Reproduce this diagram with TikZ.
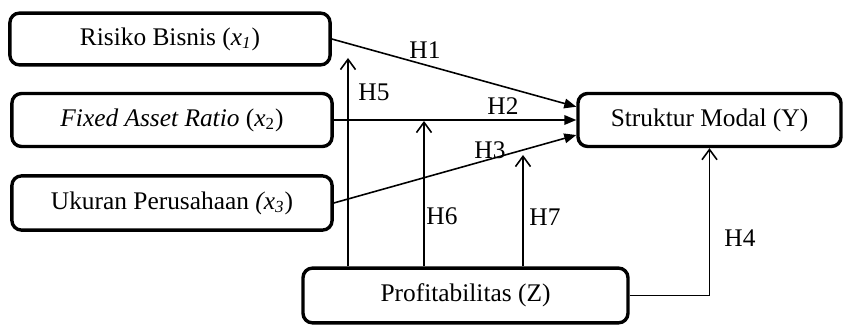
\documentclass[tikz,border=0pt]{standalone}
\usepackage{fontspec}
\setmainfont{Liberation Serif}
\usetikzlibrary{arrows.meta,positioning,calc}
\definecolor{ink}{RGB}{0,0,0}
\tikzset{
  varbox/.style={draw=ink,line width=1.6pt,rounded corners=4.5pt,align=center,inner sep=0pt,fill=white,font=\fontsize{12}{14}\selectfont},
  arrow/.style={-{Triangle[length=2mm,width=1.6mm]},line width=0.75pt,draw=ink},
  openarrow/.style={-{Straight Barb[length=1.7mm,width=2.5mm]},line width=0.75pt,draw=ink},
  hlabel/.style={font=\fontsize{12}{14}\selectfont,text=ink,inner sep=0pt}
}
\begin{document}
\begin{tikzpicture}[x=0.01662cm,y=-0.01662cm]
  \useasboundingbox (0,0) rectangle (846,325);

  % variables
  \node[varbox,minimum width=5.32cm,minimum height=0.86cm] (risk) at (170,39) {Risiko Bisnis (\textit{x\textsubscript{1}})};
  \node[varbox,minimum width=5.32cm,minimum height=0.88cm] (far) at (172,120) {\textit{Fixed Asset Ratio} (\textit{x}\textsubscript{2})};
  \node[varbox,minimum width=5.32cm,minimum height=0.90cm] (size) at (172,203) {Ukuran Perusahaan \textit{(x\textsubscript{3}})};
  \node[varbox,minimum width=4.37cm,minimum height=0.88cm] (cap) at (709.5,120) {Struktur Modal (Y)};
  \node[varbox,minimum width=5.40cm,minimum height=0.91cm] (prof) at (465.5,295.5) {Profitabilitas (Z)};

  % direct effects
  \draw[arrow] (risk.east) -- ([yshift=0.22cm]cap.west);
  \draw[arrow] (far.east) -- (cap.west);
  \draw[arrow] (size.east) -- ([yshift=-0.25cm]cap.west);
  \draw[openarrow] (prof.east) -| (cap.south);

  % moderation
  \coordinate (t5) at (348,58);
  \coordinate (t6) at (424,121);
  \coordinate (t7) at (523,155);
  \draw[openarrow] (t5 |- prof.north) -- (t5);
  \draw[openarrow] (t6 |- prof.north) -- (t6);
  \draw[openarrow] (t7 |- prof.north) -- (t7);

  % labels
  \node[hlabel] (h1) at (425,50) {H1};
  \node[hlabel] (h2) at (503,106) {H2};
  \node[hlabel] (h3) at (490,150) {H3};
  \node[hlabel] (h4) at (740,238) {H4};
  \node[hlabel] (h5) at (374,92) {H5};
  \node[hlabel] (h6) at (442,216) {H6};
  \node[hlabel] (h7) at (545,217) {H7};
\end{tikzpicture}
\end{document}
